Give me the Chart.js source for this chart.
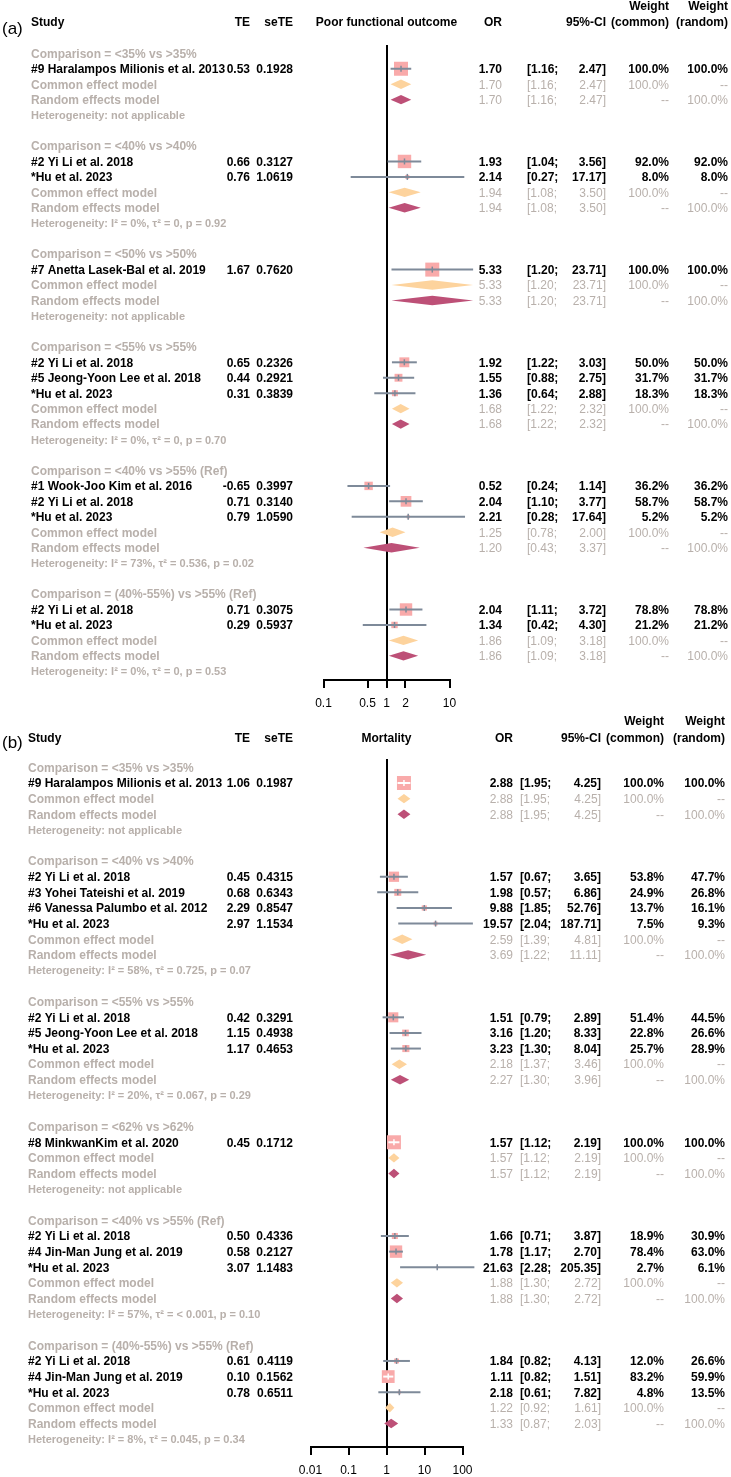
<!DOCTYPE html>
<html>
<head>
<meta charset="utf-8">
<script src="https://cdn.jsdelivr.net/npm/chart.js@4.4.1/dist/chart.umd.min.js"></script>
<style>
  html, body { margin: 0; padding: 0; background: #fff; }
  #wrap { position: relative; width: 731px; height: 1477px; overflow: hidden; }
  #wrap canvas { position: absolute; left: 0; }
</style>
</head>
<body>
<div id="wrap">
  <canvas id="chartA" width="731" height="715" style="top:0"></canvas>
  <canvas id="chartB" width="731" height="777" style="top:700px"></canvas>
</div>
<script>
// ---------- (a) Poor functional outcome ----------
const aComparisons = ['Comparison = <35% vs >35%', 'Comparison = <40% vs >40%', 'Comparison = <50% vs >50%',
  'Comparison = <55% vs >55%', 'Comparison = <40% vs >55% (Ref)', 'Comparison = (40%-55%) vs >55% (Ref)'];
const aStudyGroup = [0, 1, 1, 2, 3, 3, 3, 4, 4, 4, 5, 5];
const aStudies = ['#9 Haralampos Milionis et al. 2013', '#2 Yi Li et al. 2018', '*Hu et al. 2023',
  '#7 Anetta Lasek-Bal et al. 2019', '#2 Yi Li et al. 2018', '#5 Jeong-Yoon Lee et al. 2018', '*Hu et al. 2023',
  '#1 Wook-Joo Kim et al. 2016', '#2 Yi Li et al. 2018', '*Hu et al. 2023', '#2 Yi Li et al. 2018', '*Hu et al. 2023'];
const aTE = [0.53, 0.66, 0.76, 1.67, 0.65, 0.44, 0.31, -0.65, 0.71, 0.79, 0.71, 0.29];
const aSeTE = [0.1928, 0.3127, 1.0619, 0.7620, 0.2326, 0.2921, 0.3839, 0.3997, 0.3140, 1.0590, 0.3075, 0.5937];
const aOR = [1.70, 1.93, 2.14, 5.33, 1.92, 1.55, 1.36, 0.52, 2.04, 2.21, 2.04, 1.34];
const aLower = [1.16, 1.04, 0.27, 1.20, 1.22, 0.88, 0.64, 0.24, 1.10, 0.28, 1.11, 0.42];
const aUpper = [2.47, 3.56, 17.17, 23.71, 3.03, 2.75, 2.88, 1.14, 3.77, 17.64, 3.72, 4.30];
const aWCommon = [100.0, 92.0, 8.0, 100.0, 50.0, 31.7, 18.3, 36.2, 58.7, 5.2, 78.8, 21.2];
const aWRandom = [100.0, 92.0, 8.0, 100.0, 50.0, 31.7, 18.3, 36.2, 58.7, 5.2, 78.8, 21.2];
const aCommonOR = [1.70, 1.94, 5.33, 1.68, 1.25, 1.86];
const aCommonLower = [1.16, 1.08, 1.20, 1.22, 0.78, 1.09];
const aCommonUpper = [2.47, 3.50, 23.71, 2.32, 2.00, 3.18];
const aRandomOR = [1.70, 1.94, 5.33, 1.68, 1.20, 1.86];
const aRandomLower = [1.16, 1.08, 1.20, 1.22, 0.43, 1.09];
const aRandomUpper = [2.47, 3.50, 23.71, 2.32, 3.37, 3.18];
const aHet = ['Heterogeneity: not applicable', 'Heterogeneity: I² = 0%, τ² = 0, p = 0.92',
  'Heterogeneity: not applicable', 'Heterogeneity: I² = 0%, τ² = 0, p = 0.70',
  'Heterogeneity: I² = 73%, τ² = 0.536, p = 0.02', 'Heterogeneity: I² = 0%, τ² = 0, p = 0.53'];
const aTicks = [0.1, 0.5, 1, 2, 10];
const aTickLabels = ['0.1', '0.5', '1', '2', '10'];

// ---------- (b) Mortality ----------
const bComparisons = ['Comparison = <35% vs >35%', 'Comparison = <40% vs >40%', 'Comparison = <55% vs >55%',
  'Comparison = <62% vs >62%', 'Comparison = <40% vs >55% (Ref)', 'Comparison = (40%-55%) vs >55% (Ref)'];
const bStudyGroup = [0, 1, 1, 1, 1, 2, 2, 2, 3, 4, 4, 4, 5, 5, 5];
const bStudies = ['#9 Haralampos Milionis et al. 2013', '#2 Yi Li et al. 2018', '#3 Yohei Tateishi et al. 2019',
  '#6 Vanessa Palumbo et al. 2012', '*Hu et al. 2023', '#2 Yi Li et al. 2018', '#5 Jeong-Yoon Lee et al. 2018',
  '*Hu et al. 2023', '#8 MinkwanKim et al. 2020', '#2 Yi Li et al. 2018', '#4 Jin-Man Jung et al. 2019',
  '*Hu et al. 2023', '#2 Yi Li et al. 2018', '#4 Jin-Man Jung et al. 2019', '*Hu et al. 2023'];
const bTE = [1.06, 0.45, 0.68, 2.29, 2.97, 0.42, 1.15, 1.17, 0.45, 0.50, 0.58, 3.07, 0.61, 0.10, 0.78];
const bSeTE = [0.1987, 0.4315, 0.6343, 0.8547, 1.1534, 0.3291, 0.4938, 0.4653, 0.1712, 0.4336, 0.2127, 1.1483, 0.4119, 0.1562, 0.6511];
const bOR = [2.88, 1.57, 1.98, 9.88, 19.57, 1.51, 3.16, 3.23, 1.57, 1.66, 1.78, 21.63, 1.84, 1.11, 2.18];
const bLower = [1.95, 0.67, 0.57, 1.85, 2.04, 0.79, 1.20, 1.30, 1.12, 0.71, 1.17, 2.28, 0.82, 0.82, 0.61];
const bUpper = [4.25, 3.65, 6.86, 52.76, 187.71, 2.89, 8.33, 8.04, 2.19, 3.87, 2.70, 205.35, 4.13, 1.51, 7.82];
const bWCommon = [100.0, 53.8, 24.9, 13.7, 7.5, 51.4, 22.8, 25.7, 100.0, 18.9, 78.4, 2.7, 12.0, 83.2, 4.8];
const bWRandom = [100.0, 47.7, 26.8, 16.1, 9.3, 44.5, 26.6, 28.9, 100.0, 30.9, 63.0, 6.1, 26.6, 59.9, 13.5];
const bCommonOR = [2.88, 2.59, 2.18, 1.57, 1.88, 1.22];
const bCommonLower = [1.95, 1.39, 1.37, 1.12, 1.30, 0.92];
const bCommonUpper = [4.25, 4.81, 3.46, 2.19, 2.72, 1.61];
const bRandomOR = [2.88, 3.69, 2.27, 1.57, 1.88, 1.33];
const bRandomLower = [1.95, 1.22, 1.30, 1.12, 1.30, 0.87];
const bRandomUpper = [4.25, 11.11, 3.96, 2.19, 2.72, 2.03];
const bHet = ['Heterogeneity: not applicable', 'Heterogeneity: I² = 58%, τ² = 0.725, p = 0.07',
  'Heterogeneity: I² = 20%, τ² = 0.067, p = 0.29', 'Heterogeneity: not applicable',
  'Heterogeneity: I² = 57%, τ² = < 0.001, p = 0.10', 'Heterogeneity: I² = 8%, τ² = 0.045, p = 0.34'];
const bTicks = [0.01, 0.1, 1, 10, 100];
const bTickLabels = ['0.01', '0.1', '1', '10', '100'];

// ---------- styles ----------
const FONT = "'Liberation Sans', Arial, Helvetica, sans-serif";
const GRAY = '#B8B0AB';
const SQUARE_COL = '#F9AAAA';
const CI_COL = '#7E8A99';
const COMMON_COL = '#FDD39D';
const RANDOM_COL = '#BD5077';
const SQUARE_MAX = 14;      // side of a 100% weight square, px
const DIAMOND_HALF = 4.7;   // half height of a diamond, px

function buildRows(comparisons, studyGroup) {
    const rows = [];
    let r = 0;
    comparisons.forEach((comp, g) => {
        rows.push({ type: 'comp', row: r++, g });
        studyGroup.forEach((sg, i) => { if (sg === g) rows.push({ type: 'study', row: r++, i }); });
        rows.push({ type: 'common', row: r++, g });
        rows.push({ type: 'random', row: r++, g });
        rows.push({ type: 'het', row: r++, g });
        r++; // empty line between subgroups
    });
    return rows;
}

function makeForest(canvasId, p) {
    const rows = buildRows(p.comparisons, p.studyGroup);
    const studyRow = [], commonRow = [], randomRow = [];
    rows.forEach(r => {
        if (r.type === 'study') studyRow[r.i] = r.row;
        if (r.type === 'common') commonRow[r.g] = r.row;
        if (r.type === 'random') randomRow[r.g] = r.row;
    });
    const side = p.wCommon.map(w => SQUARE_MAX * Math.sqrt(w / 100));
    const dh = DIAMOND_HALF / p.rowH;

    // CI fully inside the square -> drawn white (like meta's col.inside)
    function inside(chart, i) {
        const x = chart.scales.x;
        const c = x.getPixelForValue(p.or[i]);
        return x.getPixelForValue(p.lower[i]) >= c - side[i] / 2 && x.getPixelForValue(p.upper[i]) <= c + side[i] / 2;
    }

    const datasets = [];
    datasets.push({
        data: p.or.map((v, i) => ({ x: v, y: studyRow[i] })),
        pointStyle: 'line', pointRotation: 90, pointRadius: 3, pointBorderWidth: 1.5,
        pointBorderColor: ctx => inside(ctx.chart, ctx.dataIndex) ? '#fff' : CI_COL,
        order: 0, clip: false
    });
    p.or.forEach((v, i) => {
        datasets.push({
            type: 'line',
            data: [{ x: p.lower[i], y: studyRow[i] }, { x: p.upper[i], y: studyRow[i] }],
            borderColor: ctx => inside(ctx.chart, i) ? '#fff' : CI_COL,
            borderWidth: 2, pointRadius: 0, order: 1, clip: false
        });
    });
    datasets.push({
        data: p.or.map((v, i) => ({ x: v, y: studyRow[i] })),
        pointStyle: 'rect', pointRadius: side.map(s => s / Math.SQRT2),
        pointBackgroundColor: SQUARE_COL, pointBorderWidth: 0, order: 2, clip: false
    });
    p.comparisons.forEach((c, g) => {
        [[p.commonOR, p.commonLower, p.commonUpper, commonRow, COMMON_COL],
         [p.randomOR, p.randomLower, p.randomUpper, randomRow, RANDOM_COL]].forEach(([est, lo, hi, rr, col]) => {
            const y = rr[g];
            datasets.push({
                data: [{ x: lo[g], y }, { x: est[g], y: y - dh }, { x: hi[g], y }, { x: est[g], y: y + dh }],
                pointRadius: 0, diamond: col, order: 3, clip: false
            });
        });
    });

    const diamondPlugin = {
        id: 'diamonds',
        afterDatasetsDraw(chart) {
            const ctx = chart.ctx;
            chart.data.datasets.forEach((ds, k) => {
                if (!ds.diamond) return;
                const pts = chart.getDatasetMeta(k).data;
                ctx.save();
                ctx.beginPath();
                pts.forEach((pt, j) => j ? ctx.lineTo(pt.x, pt.y) : ctx.moveTo(pt.x, pt.y));
                ctx.closePath();
                ctx.fillStyle = ds.diamond;
                ctx.fill();
                ctx.restore();
            });
        }
    };

    const textPlugin = {
        id: 'columns',
        afterDraw(chart) {
            const ctx = chart.ctx;
            const yS = chart.scales.y;
            const col = p.cols;
            const bold = 'bold 12px ' + FONT;
            const plain = '12px ' + FONT;
            const put = (s, x, y, align, color, font) => {
                ctx.font = font; ctx.fillStyle = color; ctx.textAlign = align; ctx.textBaseline = 'alphabetic';
                ctx.fillText(s, x, y);
            };
            ctx.save();
            // header
            const hy = p.headY, wy = p.weightY;
            put(p.tag, 2, p.tagY, 'left', '#000', '17px ' + FONT);
            put('Study', col.label, hy, 'left', '#000', bold);
            put('TE', col.te, hy, 'right', '#000', bold);
            put('seTE', col.sete, hy, 'right', '#000', bold);
            put(p.title, (chart.chartArea.left + chart.chartArea.right) / 2, hy, 'center', '#000', bold);
            put('OR', col.or, hy, 'right', '#000', bold);
            put('95%-CI', col.hi, hy, 'right', '#000', bold);
            put('Weight', col.wc, wy, 'right', '#000', bold);
            put('(common)', col.wc, hy, 'right', '#000', bold);
            put('Weight', col.wr, wy, 'right', '#000', bold);
            put('(random)', col.wr, hy, 'right', '#000', bold);

            const ci = (lo, hi, y, color, font) => {
                put('[' + lo.toFixed(2) + ';', col.lo, y, 'left', color, font);
                put(hi.toFixed(2) + ']', col.hi, y, 'right', color, font);
            };
            rows.forEach(r => {
                const y = yS.getPixelForValue(r.row) + 4.3;
                if (r.type === 'comp') {
                    put(p.comparisons[r.g], col.label, y, 'left', GRAY, bold);
                } else if (r.type === 'study') {
                    const i = r.i;
                    put(p.studies[i], col.label, y, 'left', '#000', bold);
                    put(p.te[i].toFixed(2), col.te, y, 'right', '#000', bold);
                    put(p.sete[i].toFixed(4), col.sete, y, 'right', '#000', bold);
                    put(p.or[i].toFixed(2), col.or, y, 'right', '#000', bold);
                    ci(p.lower[i], p.upper[i], y, '#000', bold);
                    put(p.wCommon[i].toFixed(1) + '%', col.wc, y, 'right', '#000', bold);
                    put(p.wRandom[i].toFixed(1) + '%', col.wr, y, 'right', '#000', bold);
                } else if (r.type === 'common') {
                    put('Common effect model', col.label, y, 'left', GRAY, bold);
                    put(p.commonOR[r.g].toFixed(2), col.or, y, 'right', GRAY, plain);
                    ci(p.commonLower[r.g], p.commonUpper[r.g], y, GRAY, plain);
                    put('100.0%', col.wc, y, 'right', GRAY, plain);
                    put('--', col.wr, y, 'right', GRAY, plain);
                } else if (r.type === 'random') {
                    put('Random effects model', col.label, y, 'left', GRAY, bold);
                    put(p.randomOR[r.g].toFixed(2), col.or, y, 'right', GRAY, plain);
                    ci(p.randomLower[r.g], p.randomUpper[r.g], y, GRAY, plain);
                    put('--', col.wc, y, 'right', GRAY, plain);
                    put('100.0%', col.wr, y, 'right', GRAY, plain);
                } else if (r.type === 'het') {
                    put(p.het[r.g], col.label, y - 0.3, 'left', GRAY, 'bold 11px ' + FONT);
                }
            });
            ctx.restore();
        }
    };

    const canvas = document.getElementById(canvasId);
    const W = canvas.width, H = canvas.height;
    const ticks = p.ticks;
    return new Chart(canvas, {
        type: 'scatter',
        data: { datasets },
        options: {
            responsive: false,
            animation: false,
            events: [],
            layout: { padding: { left: p.plotLeft, right: W - p.plotRight, top: p.plotTop, bottom: 0 } },
            plugins: { legend: { display: false }, tooltip: { enabled: false } },
            scales: {
                x: {
                    type: 'logarithmic',
                    min: ticks[0], max: ticks[ticks.length - 1], bounds: 'data',
                    afterBuildTicks: s => { s.ticks = ticks.map(v => ({ value: v })); },
                    afterFit: s => { s.height = H - p.axisY; },
                    ticks: {
                        callback: (v, i) => p.tickLabels[i],
                        autoSkip: false, maxRotation: 0, padding: 8,
                        color: '#000', font: { family: FONT, size: 12 }
                    },
                    grid: {
                        color: c => (c.tick && c.tick.value === 1) ? '#000' : 'rgba(0,0,0,0)',
                        lineWidth: 2, tickColor: '#000', tickWidth: 2, tickLength: 8
                    },
                    border: { display: true, color: '#000', width: 2 }
                },
                y: {
                    type: 'linear', display: false, reverse: true, bounds: 'data',
                    min: (p.plotTop - p.rowTop) / p.rowH,
                    max: (p.axisY - p.rowTop) / p.rowH
                }
            }
        },
        plugins: [diamondPlugin, textPlugin]
    });
}

makeForest('chartA', {
    tag: '(a)', title: 'Poor functional outcome',
    comparisons: aComparisons, studyGroup: aStudyGroup, studies: aStudies, te: aTE, sete: aSeTE,
    or: aOR, lower: aLower, upper: aUpper, wCommon: aWCommon, wRandom: aWRandom,
    commonOR: aCommonOR, commonLower: aCommonLower, commonUpper: aCommonUpper,
    randomOR: aRandomOR, randomLower: aRandomLower, randomUpper: aRandomUpper, het: aHet,
    ticks: aTicks, tickLabels: aTickLabels,
    plotLeft: 323.5, plotRight: 449.5, plotTop: 45, axisY: 680, rowTop: 53.3, rowH: 15.45,
    headY: 26, weightY: 10.3, tagY: 34,
    cols: { label: 31, te: 250, sete: 293, or: 502, lo: 527, hi: 606, wc: 669, wr: 728 }
});

makeForest('chartB', {
    tag: '(b)', title: 'Mortality',
    comparisons: bComparisons, studyGroup: bStudyGroup, studies: bStudies, te: bTE, sete: bSeTE,
    or: bOR, lower: bLower, upper: bUpper, wCommon: bWCommon, wRandom: bWRandom,
    commonOR: bCommonOR, commonLower: bCommonLower, commonUpper: bCommonUpper,
    randomOR: bRandomOR, randomLower: bRandomLower, randomUpper: bRandomUpper, het: bHet,
    ticks: bTicks, tickLabels: bTickLabels,
    plotLeft: 310.5, plotRight: 462.5, plotTop: 59, axisY: 747, rowTop: 67.4, rowH: 15.62,
    headY: 41.6, weightY: 25, tagY: 48,
    cols: { label: 28, te: 250, sete: 293, or: 513, lo: 520, hi: 601, wc: 664, wr: 725 }
});
</script>
</body>
</html>
